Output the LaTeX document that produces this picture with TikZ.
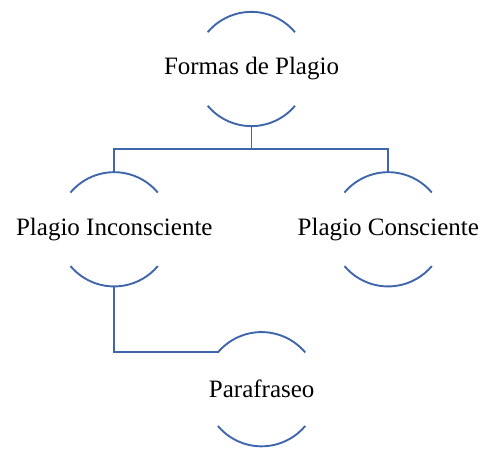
\documentclass[tikz,border=0pt]{standalone}
\usepackage{fontspec}
\setmainfont{Liberation Serif}
\definecolor{lineblue}{HTML}{3F66AC}
\tikzset{
  ring/.style={circle,minimum size=114pt,inner sep=0pt},
  caption/.style={font=\fontsize{25}{30}\selectfont,text=black},
  link/.style={draw=lineblue,line width=1.9pt}
}
\begin{document}
\begin{tikzpicture}[x=1pt,y=1pt]
      \useasboundingbox (0,0) rectangle (481,448);
      \draw
        (251.5,379) node[ring,label={[caption]center:Formas de Plagio}] (forma){}
        (114.3,218.7) node[ring,label={[caption]center:Plagio Inconsciente}] (incon){}
        (388.3,218.7) node[ring,label={[caption]center:Plagio Consciente}] (consc){}
        (261.7,58.8) node[ring,label={[caption]center:Parafraseo}] (para){};
      \coordinate (split) at (251.5,299);
      \foreach \n in {forma,incon,consc,para}{
        \draw[link] (\n.140) arc[start angle=140,end angle=40,radius=57pt];
        \draw[link] (\n.220) arc[start angle=220,end angle=320,radius=57pt];
      }
      \begin{scope}[link]
        \draw (forma.south) -- (split);
        \draw (split) -| (incon.north);
        \draw (split) -| (consc.north);
        \draw (incon.south) |- (para.140);
      \end{scope}
    \end{tikzpicture}
\end{document}
